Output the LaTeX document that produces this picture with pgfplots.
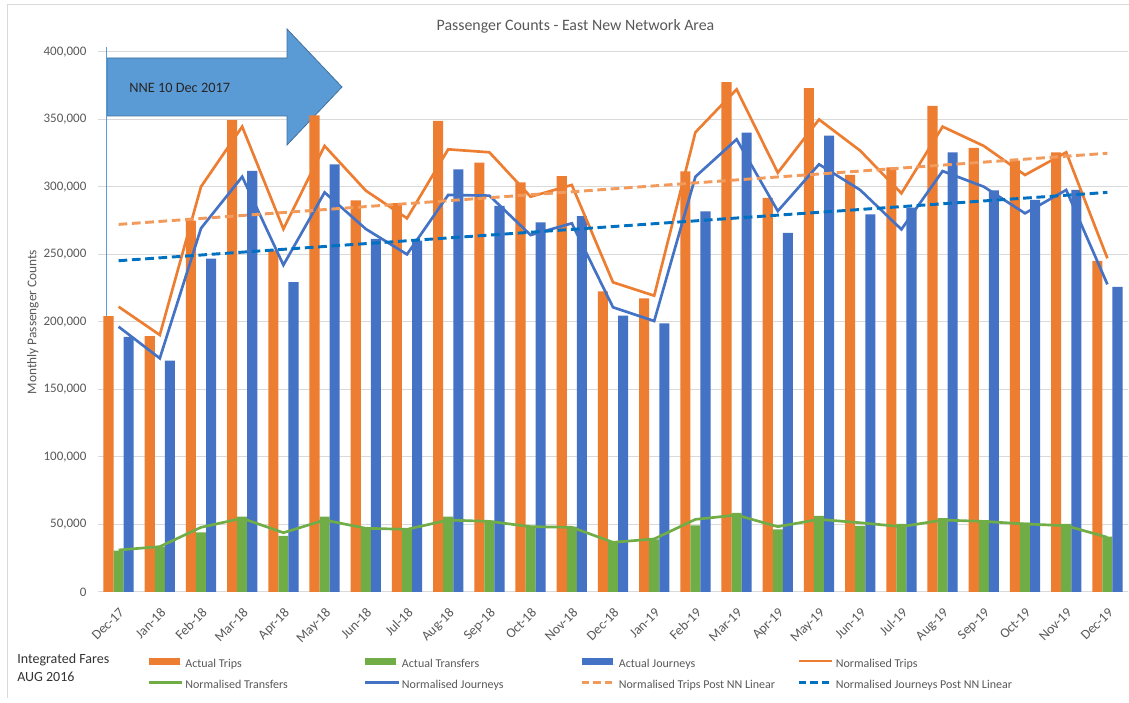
\documentclass[border=0pt]{standalone}
\usepackage{fontspec}
\setmainfont{Carlito}
\usepackage{pgfplots}
\pgfplotsset{compat=1.18}
\definecolor{cOrange}{HTML}{ED7D31}
\definecolor{cGreen}{HTML}{70AD47}
\definecolor{cBlue}{HTML}{4472C4}
\definecolor{cTrO}{HTML}{F29A5C}
\definecolor{cTrB}{HTML}{0070C0}
\definecolor{cGrid}{HTML}{D9D9D9}
\definecolor{cText}{HTML}{595959}
\definecolor{cArrow}{HTML}{5B9BD5}
\definecolor{cArrowLine}{HTML}{41719C}
\newcommand{\lt}[1]{\makebox[134pt][l]{#1}}
\begin{document}
\begin{tikzpicture}
\useasboundingbox (0,0) rectangle (846.75pt,527.25pt);
\fill[white] (0,0) rectangle (846.75pt,527.25pt);
\draw[cGrid, line width=0.75pt] (5.25pt,3.75pt) -- (5.25pt,523.5pt) -- (846.75pt,523.5pt);
\begin{axis}[
 at={(73.5pt,83.25pt)}, anchor=south west,
 scale only axis, width=772.5pt, height=405pt,
 xmin=-0.5, xmax=24.5, ymin=0, ymax=400000,
 clip=false,
 axis line style={draw=none},
 tick style={draw=none},
 ymajorgrids, grid style={draw=cGrid, line width=0.75pt},
 ytick={0,50000,...,400000},
 scaled y ticks=false,
 /pgf/number format/assume math mode=true,
 /pgf/number format/fixed,
 /pgf/number format/1000 sep={,},
 ticklabel style={font=\fontsize{9.75}{11}\selectfont, text=cText},
 yticklabel style={inner sep=0pt, xshift=-8.5pt},
 xtick={0,...,24},
 xticklabels={Dec-17,Jan-18,Feb-18,Mar-18,Apr-18,May-18,Jun-18,Jul-18,Aug-18,Sep-18,Oct-18,Nov-18,Dec-18,Jan-19,Feb-19,Mar-19,Apr-19,May-19,Jun-19,Jul-19,Aug-19,Sep-19,Oct-19,Nov-19,Dec-19},
 xticklabel style={inner sep=0pt, yshift=-11pt, rotate=45, anchor=north east, font=\fontsize{10.25}{11}\selectfont},
 legend columns=4,
 legend cell align=left,
 legend style={at={(axis description cs:0.0476,-0.121)}, anchor=north west, draw=none, fill=none, inner sep=0pt,
   font=\fontsize{9}{10}\selectfont, text=cText, row sep=8.5pt,
   /tikz/every odd column/.append style={column sep=1.5pt},
   nodes={inner sep=0pt}},
]
% annotation arrow (behind data)
\filldraw[fill=cArrow, draw=cArrowLine, line width=0.6pt]
  (axis cs:-0.2816,395555) -- (axis cs:4.0874,395555) -- (axis cs:4.0874,417037)
  -- (axis cs:5.4223,374074) -- (axis cs:4.0874,331111) -- (axis cs:4.0874,352593)
  -- (axis cs:-0.2816,352593) -- cycle;
\node[anchor=west, inner sep=0pt, font=\fontsize{10.75}{12}\selectfont, text=black!85] at (axis cs:0.2524,373333) {NNE 10 Dec 2017};
\draw[cArrow, line width=0.75pt] (axis cs:-0.3058,403703) -- (axis cs:-0.3058,20000);

\addplot[ybar, bar width=0.245, bar shift=-0.245, fill=cOrange, draw=none,
  legend image code/.code={\path (0pt,0pt) -- (25pt,0pt); \fill[cOrange] (0pt,-0.4pt) rectangle (23.25pt,4.8pt);}]
coordinates {(0,204400) (1,189600) (2,275000) (3,349600) (4,253000) (5,353000) (6,290000) (7,288000) (8,349000) (9,318000) (10,303500) (11,308000) (12,222700) (13,217500) (14,311600) (15,377700) (16,292000) (17,373300) (18,308900) (19,314500) (20,360000) (21,328900) (22,319500) (23,325700) (24,245200)};
\addlegendentry{\lt{Actual Trips}}
\addplot[ybar, bar width=0.245, bar shift=0, fill=cGreen, draw=none,
  legend image code/.code={\path (0pt,0pt) -- (25pt,0pt); \fill[cGreen] (0pt,-0.4pt) rectangle (23.25pt,4.8pt);}]
coordinates {(0,30600) (1,33600) (2,44200) (3,55800) (4,41500) (5,55800) (6,47600) (7,45900) (8,55800) (9,52800) (10,48900) (11,48400) (12,37300) (13,39000) (14,49400) (15,58700) (16,46400) (17,56300) (18,48900) (19,50400) (20,54800) (21,53300) (22,51300) (23,50400) (24,41000)};
\addlegendentry{\lt{Actual Transfers}}
\addplot[ybar, bar width=0.245, bar shift=0.245, fill=cBlue, draw=none,
  legend image code/.code={\path (0pt,0pt) -- (25pt,0pt); \fill[cBlue] (0pt,-0.4pt) rectangle (23.25pt,4.8pt);}]
coordinates {(0,189000) (1,171300) (2,247000) (3,312000) (4,229600) (5,316800) (6,261500) (7,260200) (8,313000) (9,286000) (10,273800) (11,278500) (12,204700) (13,199000) (14,282000) (15,340200) (16,266000) (17,338000) (18,279700) (19,284700) (20,325700) (21,297500) (22,290400) (23,297800) (24,226000)};
\addlegendentry{\lt{Actual Journeys}}
\addplot[cOrange, line width=2pt, no markers,
  legend image code/.code={\draw[cOrange, line width=2pt] (0pt,2.2pt) -- (25pt,2.2pt);}]
coordinates {(0,211300) (1,190400) (2,300200) (3,344700) (4,268900) (5,330400) (6,297300) (7,276800) (8,327900) (9,325700) (10,292800) (11,301500) (12,229400) (13,219500) (14,340500) (15,372300) (16,310600) (17,350000) (18,326900) (19,295300) (20,344700) (21,330400) (22,308900) (23,325700) (24,247200)};
\addlegendentry{\lt{Normalised Trips}}
\addplot[cGreen, line width=2pt, no markers,
  legend image code/.code={\draw[cGreen, line width=2pt] (0pt,2.2pt) -- (25pt,2.2pt);}]
coordinates {(0,31100) (1,33600) (2,47900) (3,54600) (4,43900) (5,53300) (6,47200) (7,46400) (8,53300) (9,52300) (10,48400) (11,47900) (12,36800) (13,39300) (14,53800) (15,57000) (16,48400) (17,53800) (18,51300) (19,48400) (20,53300) (21,52300) (22,50400) (23,49100) (24,40500)};
\addlegendentry{\lt{Normalised Transfers}}
\addplot[cBlue, line width=2pt, no markers,
  legend image code/.code={\draw[cBlue, line width=2pt] (0pt,2.2pt) -- (25pt,2.2pt);}]
coordinates {(0,196500) (1,173100) (2,269400) (3,307600) (4,242200) (5,296000) (6,268900) (7,250100) (8,294100) (9,293600) (10,264400) (11,273100) (12,210900) (13,200700) (14,307600) (15,335300) (16,282200) (17,316800) (18,297800) (19,268600) (20,311800) (21,300200) (22,280500) (23,297800) (24,227900)};
\addlegendentry{\lt{Normalised Journeys}}
\addplot[cTrO, line width=2.2pt, no markers, dash pattern=on 6.5pt off 3.5pt,
  legend image code/.code={\draw[cTrO, line width=2.2pt, dash pattern=on 5.5pt off 3pt] (0pt,2.2pt) -- (25pt,2.2pt);}]
coordinates {(0,272300) (24,325000)};
\addlegendentry{\lt{Normalised Trips Post NN Linear}}
\addplot[cTrB, line width=2.2pt, no markers, dash pattern=on 6.5pt off 3.5pt,
  legend image code/.code={\draw[cTrB, line width=2.2pt, dash pattern=on 5.5pt off 3pt] (0pt,2.2pt) -- (25pt,2.2pt);}]
coordinates {(0,245400) (24,296000)};
\addlegendentry{\lt{Normalised Journeys Post NN Linear}}
\end{axis}
\node[font=\fontsize{11.9}{13}\selectfont, text=cText] at (431.6pt,507.75pt) {Passenger Counts - East New Network Area};
\node[rotate=90, font=\fontsize{10}{12}\selectfont, text=cText] at (24.75pt,285.75pt) {Monthly Passenger Counts};
\node[anchor=base west, align=left, inner sep=0pt, font=\fontsize{10.5}{13.5}\selectfont, text=black!80] at (12.75pt,15.75pt) {Integrated Fares\\AUG 2016};
\end{tikzpicture}
\end{document}
